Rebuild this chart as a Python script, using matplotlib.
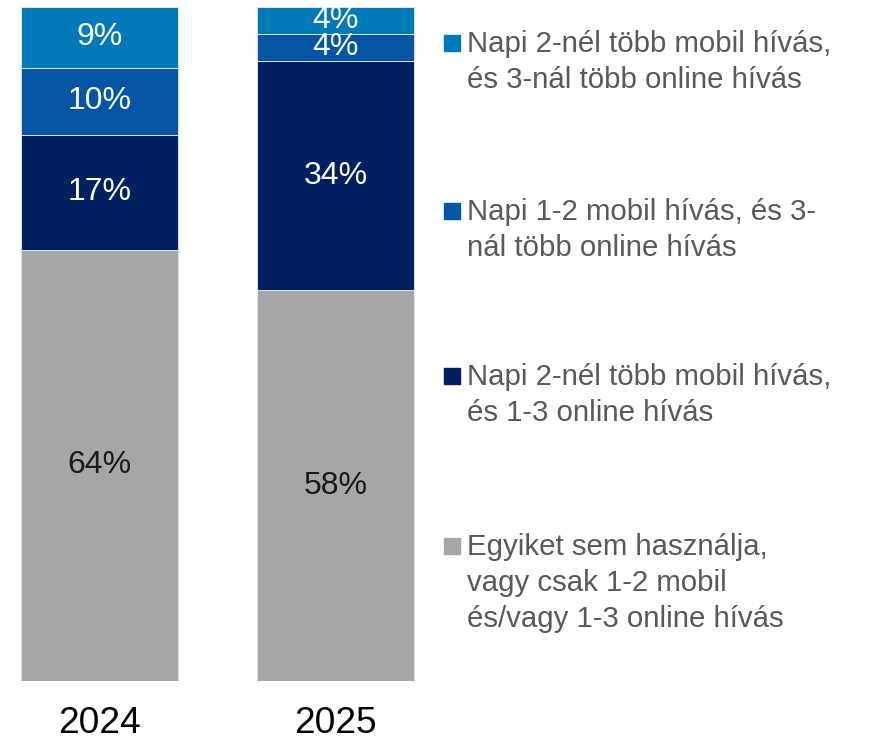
import matplotlib
matplotlib.use("Agg")
import matplotlib.pyplot as plt
from matplotlib.patches import Rectangle

plt.rcParams['font.family'] = ['Liberation Sans', 'DejaVu Sans']

years = ["2024", "2025"]
series_labels = [
    "Egyiket sem használja,\nvagy csak 1-2 mobil\nés/vagy 1-3 online hívás",
    "Napi 2-nél több mobil hívás,\nés 1-3 online hívás",
    "Napi 1-2 mobil hívás, és 3-\nnál több online hívás",
    "Napi 2-nél több mobil hívás,\nés 3-nál több online hívás",
]
values = [
    [64, 58],   # gray
    [17, 34],   # navy
    [10, 4],    # mid blue
    [9, 4],     # light blue
]
colors = ["#A6A6A6", "#002060", "#0455A4", "#0079B9"]
text_colors = ["#1a1a1a", "white", "white", "white"]

W, H = 889, 743
fig = plt.figure(figsize=(W / 100, H / 100), dpi=100)

# axes: bars from px x 21..414, y 7..681
ax_left_px, ax_right_px = 0, 440
ax_top_px, ax_bot_px = 7, 681
ax = fig.add_axes([ax_left_px / W, (H - ax_bot_px) / H,
                   (ax_right_px - ax_left_px) / W, (ax_bot_px - ax_top_px) / H])
spacing = 236.0
centers_px = [99.5, 335.5]
width = 157 / spacing
xpos = [0, 1]
ax.set_xlim((ax_left_px - centers_px[0]) / spacing, (ax_right_px - centers_px[0]) / spacing)
ax.set_ylim(0, 100)

bottoms = [0, 0]
for vals, c, tc in zip(values, colors, text_colors):
    bars = ax.bar(xpos, vals, width=width, bottom=bottoms, color=c,
                  edgecolor="#D9E3F0", linewidth=0.7)
    for x, v, b in zip(xpos, vals, bottoms):
        ax.text(x, b + v / 2, f"{v}%", ha="center", va="center",
                color=tc, fontsize=23)
    bottoms = [b + v for b, v in zip(bottoms, vals)]

ax.set_xticks(xpos)
ax.set_xticklabels(years, fontsize=26.7, color="black")
ax.tick_params(axis="x", length=0, pad=18)
ax.set_yticks([])
for s in ax.spines.values():
    s.set_visible(False)

# legend (top to bottom: light blue, mid blue, navy, gray)
legend_baselines = [52, 220, 385, 555]
line_step = 36
order = [3, 2, 1, 0]
for base, idx in zip(legend_baselines, order):
    sq = Rectangle((444 / W, 1 - (base - 1) / H), 16 / W, 16 / H,
                   transform=fig.transFigure, color=colors[idx])
    fig.patches.append(sq)
    for j, line in enumerate(series_labels[idx].split("\n")):
        fig.text(467 / W, 1 - (base + j * line_step) / H, line,
                 ha="left", va="baseline", fontsize=21.2, color="#595959")

fig.savefig("out.png", dpi=100)
